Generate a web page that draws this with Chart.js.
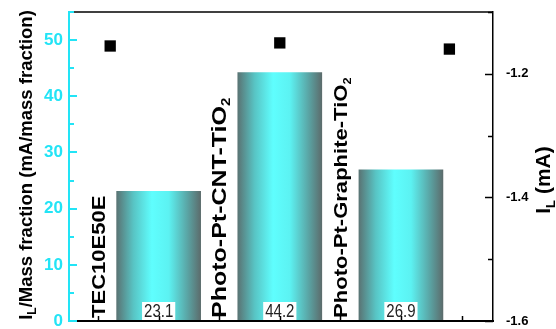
<!DOCTYPE html>
<html>
<head>
<meta charset="utf-8">
<script src="https://cdn.jsdelivr.net/npm/chart.js@4/dist/chart.umd.min.js"></script>
<style>
  html, body { margin: 0; padding: 0; background: #fff; }
  canvas { display: block; }
</style>
</head>
<body>
<canvas id="chart" width="556" height="329"></canvas>
<script>
// Catalyst samples and their positions on the x axis
const categories = ['TEC10E50E', 'Photo-Pt-CNT-TiO₂', 'Photo-Pt-Graphite-TiO₂'];
const categoryPos = [1, 2, 3];
const labelPos = [0.5, 1.5, 2.5];

// Limiting current normalised by Pt mass fraction (mA/mass fraction)
const massCurrent = [23.1, 44.2, 26.9];

// Limiting current (mA), right axis
const limitingCurrentPos = [0.6, 2.0, 3.4];
const limitingCurrent = [-1.155, -1.150, -1.160];

// Axis ticks
const leftTicks = [0, 10, 20, 30, 40, 50];
const leftMinor = [5, 15, 25, 35, 45, 55];
const rightTicks = [-1.6, -1.4, -1.2];
const rightMinor = [-1.5, -1.3, -1.1];
const bottomTicks = [0.5, 1, 1.5, 2, 2.5, 3, 3.5];

// Axis titles as [main, subscript, rest]
const leftTitle = ['I', 'L', '/Mass fraction (mA/mass fraction)'];
const rightTitle = ['I', 'L', ' (mA)'];

// Styling
const CYAN = '#22e4f6';
const FONT = '"Liberation Sans", Arial, Helvetica, sans-serif';
const BAR_W = 84;
const LABEL_STYLE = [
  { size: 19, stretch: 1.16 },
  { size: 20, stretch: 1.25 },
  { size: 19, stretch: 1.16 }
];

function barGradient(c) {
  const chart = c.chart;
  const xs = chart.scales && chart.scales.x;
  if (!xs || c.type !== 'data') return '#5ffcfc';
  const cx = xs.getPixelForValue(categoryPos[c.dataIndex]);
  if (!isFinite(cx)) return '#5ffcfc';
  const g = chart.ctx.createLinearGradient(cx - BAR_W / 2, 0, cx + BAR_W / 2, 0);
  g.addColorStop(0, '#5a7474');
  g.addColorStop(0.2, '#58c4c4');
  g.addColorStop(0.42, '#5ffefe');
  g.addColorStop(0.62, '#5cf2f2');
  g.addColorStop(0.85, '#5aa2a2');
  g.addColorStop(1, '#5c6c6c');
  return g;
}

// Draw text pieces rotated by -90deg (reading bottom to top).
function drawVerticalRuns(ctx, pieces, x, y, baseSize, stretch, centred) {
  ctx.save();
  ctx.fillStyle = '#000';
  ctx.textAlign = 'left';
  ctx.textBaseline = 'alphabetic';
  let total = 0;
  const widths = pieces.map(p => {
    ctx.font = 'bold ' + p.size + 'px ' + FONT;
    const w = ctx.measureText(p.text).width;
    total += w;
    return w;
  });
  ctx.translate(x, y);
  ctx.rotate(-Math.PI / 2);
  ctx.scale(stretch, 1);
  let pos = centred ? -total / 2 : 0;
  const base = baseSize * 0.716 / 2;
  pieces.forEach((p, i) => {
    ctx.font = 'bold ' + p.size + 'px ' + FONT;
    ctx.fillText(p.text, pos, base + (p.shift || 0));
    pos += widths[i];
  });
  ctx.restore();
}

function splitSub(label, size) {
  if (label.endsWith('₂')) {
    return [
      { text: label.slice(0, -1), size: size },
      { text: '2', size: Math.round(size * 0.58), shift: 4 }
    ];
  }
  return [{ text: label, size: size }];
}

const decor = {
  id: 'decor',
  afterDatasetsDraw(chart) {
    const { ctx, chartArea: a, scales: { x, y, y1 } } = chart;

    // value labels at the foot of each bar
    ctx.save();
    ctx.font = '15px ' + FONT;
    ctx.textAlign = 'center';
    ctx.textBaseline = 'alphabetic';
    massCurrent.forEach((v, i) => {
      const cx = x.getPixelForValue(categoryPos[i]);
      const t = v.toFixed(1);
      const w = ctx.measureText(t).width;
      ctx.fillStyle = '#fff';
      ctx.fillRect(cx - w / 2 - 2, a.bottom - 19, w + 4, 18);
      ctx.save();
      ctx.translate(cx, a.bottom - 4);
      ctx.scale(1, 1.2);
      ctx.fillStyle = '#222';
      ctx.fillText(t, 0, 0);
      ctx.restore();
    });
    ctx.restore();

    // category names, written vertically between the bars
    categories.forEach((c, i) => {
      const px = x.getPixelForValue(labelPos[i]);
      const st = LABEL_STYLE[i];
      drawVerticalRuns(ctx, splitSub(c, st.size), px, a.bottom - 3, st.size, st.stretch, false);
    });

    // frame lines
    ctx.save();
    ctx.strokeStyle = '#000';
    ctx.lineWidth = 1.5;
    ctx.beginPath();
    ctx.moveTo(a.left, a.top);
    ctx.lineTo(a.right, a.top);
    ctx.stroke();
    ctx.lineWidth = 2;
    ctx.beginPath();
    ctx.moveTo(a.left, a.bottom);
    ctx.lineTo(a.right + 1, a.bottom);
    ctx.stroke();

    // bottom ticks (inward)
    ctx.lineWidth = 1.5;
    bottomTicks.forEach(v => {
      const px = Math.round(x.getPixelForValue(v)) + 0.5;
      ctx.beginPath();
      ctx.moveTo(px, a.bottom);
      ctx.lineTo(px, a.bottom - 5);
      ctx.stroke();
    });

    // right ticks (inward)
    const rt = (v, len) => {
      const py = Math.round(y1.getPixelForValue(v)) + 0.5;
      ctx.beginPath();
      ctx.moveTo(a.right, py);
      ctx.lineTo(a.right - len, py);
      ctx.stroke();
    };
    rightTicks.forEach(v => rt(v, 8));
    rightMinor.forEach(v => rt(v, 5));

    // left ticks (inward, cyan)
    ctx.strokeStyle = CYAN;
    ctx.lineWidth = 2;
    const lt = (v, len) => {
      const py = Math.round(y.getPixelForValue(v));
      ctx.beginPath();
      ctx.moveTo(a.left, py);
      ctx.lineTo(a.left + len, py);
      ctx.stroke();
    };
    leftTicks.forEach(v => lt(v, 8));
    leftMinor.forEach(v => lt(v, 5));
    ctx.restore();

    // axis titles
    drawVerticalRuns(ctx, [
      { text: leftTitle[0], size: 18.5 },
      { text: leftTitle[1], size: 12, shift: 4 },
      { text: leftTitle[2], size: 18.5 }
    ], 25, 165, 18.5, 1, true);
    drawVerticalRuns(ctx, [
      { text: rightTitle[0], size: 21 },
      { text: rightTitle[1], size: 13, shift: 5 },
      { text: rightTitle[2], size: 21 }
    ], 542, 180, 21, 1, true);
  }
};

// fixed axis sizes, no extra room reserved for edge labels
const fixWidth = w => s => { s.width = w; s.paddingTop = 0; s.paddingBottom = 0; };

const chart = new Chart(document.getElementById('chart'), {
  type: 'bar',
  data: {
    datasets: [
      {
        type: 'bar',
        label: 'I_L/Mass fraction',
        data: categoryPos.map((p, i) => ({ x: p, y: massCurrent[i] })),
        yAxisID: 'y',
        backgroundColor: barGradient,
        borderWidth: 0,
        barThickness: BAR_W
      },
      {
        type: 'scatter',
        label: 'I_L',
        data: limitingCurrentPos.map((p, i) => ({ x: p, y: limitingCurrent[i] })),
        yAxisID: 'y1',
        pointStyle: 'rect',
        pointRadius: 8,
        pointHoverRadius: 8,
        backgroundColor: '#000',
        borderColor: '#000',
        borderWidth: 0
      }
    ]
  },
  options: {
    responsive: false,
    animation: false,
    devicePixelRatio: 1,
    layout: { padding: { top: 12, bottom: 0, left: 0, right: 0 } },
    plugins: {
      legend: { display: false },
      tooltip: { enabled: false }
    },
    scales: {
      x: {
        type: 'linear',
        min: 0.26,
        max: 3.76,
        offset: false,
        afterFit: s => { s.height = 7; s.paddingLeft = 0; s.paddingRight = 0; },
        grid: { display: false, drawTicks: false, offset: false },
        border: { display: false },
        ticks: { display: false }
      },
      y: {
        type: 'linear',
        position: 'left',
        min: 0,
        max: 55,
        afterBuildTicks: s => { s.ticks = leftTicks.map(v => ({ value: v })); },
        afterFit: fixWidth(69),
        grid: { display: false, drawTicks: false },
        border: { display: true, color: CYAN, width: 2 },
        ticks: {
          color: CYAN,
          padding: 6,
          font: { family: FONT, size: 17, weight: 'bold' },
          callback: v => String(v)
        }
      },
      y1: {
        type: 'linear',
        position: 'right',
        min: -1.6,
        max: -1.1,
        afterBuildTicks: s => { s.ticks = rightTicks.map(v => ({ value: v })); },
        afterFit: fixWidth(63),
        grid: { display: false, drawTicks: false },
        border: { display: true, color: '#000', width: 1.5 },
        ticks: {
          color: '#000',
          padding: 13,
          font: { family: FONT, size: 13, weight: 'bold' },
          callback: v => v.toFixed(1)
        }
      }
    }
  },
  plugins: [decor]
});
chart.update();
</script>
</body>
</html>
